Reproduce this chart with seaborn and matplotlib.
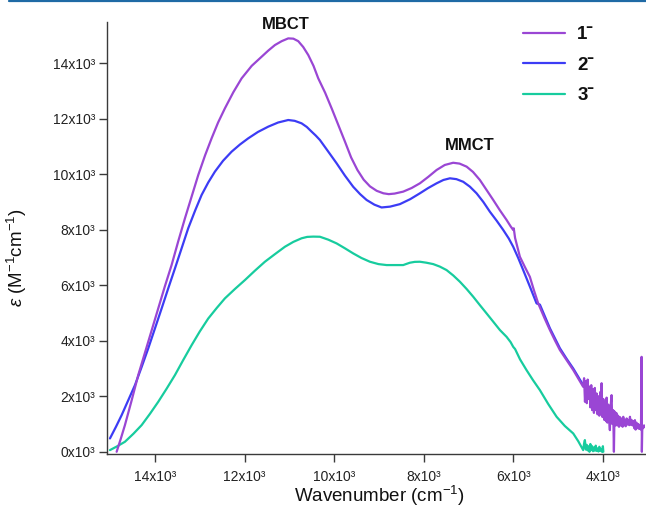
import matplotlib
matplotlib.use("Agg")
import matplotlib.pyplot as plt
import matplotlib.lines as mlines
import seaborn as sns
import pandas as pd

# ---- data (wavenumber in cm-1, epsilon in M-1 cm-1) ----
wn_1 = [14855, 14760, 14670, 14520, 14373, 14260, 14150, 14040, 13926, 13780,
        13628, 13480, 13330, 13180, 13033, 12880, 12735, 12590, 12438, 12250,
        12065, 11840, 11618, 11470, 11321, 11170, 11024, 10910, 10801, 10690,
        10577, 10460, 10354, 10200, 10050, 9900, 9760, 9620, 9480, 9340,
        9200, 9050, 8900, 8780, 8650, 8458, 8270, 8085, 7900, 7712,
        7530, 7342, 7200, 7042, 6900, 6746, 6600, 6448, 6300, 6150,
        6060, 6002, 5990, 5960, 5853, 5740, 5630, 5540, 5444, 5300,
        5183, 5070, 4960, 4810, 4662, 4550,
        # noisy low-energy tail
        4440, 4420, 4400, 4380, 4360, 4340, 4320, 4300, 4280, 4260,
        4240, 4220, 4200, 4180, 4160, 4140, 4120, 4100, 4080, 4060,
        4040, 4029, 4010, 3990, 3970, 3950, 3930, 3917, 3900, 3880,
        3860, 3844, 3830, 3806, 3790, 3770, 3754, 3740, 3720, 3700,
        3680, 3660, 3640, 3620, 3600, 3580, 3560, 3545, 3530, 3510,
        3490, 3470, 3450, 3430, 3410, 3396, 3380, 3360, 3340, 3320,
        3300, 3285, 3270, 3250, 3230, 3210, 3190, 3170, 3150, 3136,
        3130, 3120, 3100, 3080, 3063]
eps_1 = [0, 480, 960, 1850, 2760, 3370, 3960, 4560, 5165, 5950,
         6725, 7580, 8408, 9200, 9968, 10680, 11290, 11860, 12370, 12950,
         13450, 13900, 14230, 14450, 14650, 14790, 14890, 14880, 14790, 14580,
         14290, 13900, 13450, 12930, 12350, 11750, 11180, 10600, 10150, 9800,
         9560, 9400, 9310, 9280, 9300, 9370, 9500, 9670, 9900, 10150,
         10330, 10410, 10380, 10270, 10080, 9790, 9440, 9070, 8700, 8350,
         8120, 7990, 8050, 7700, 7025, 6650, 6300, 5820, 5345, 4800,
         4385, 4010, 3665, 3300, 2945, 2640,
         2340, 2650, 1800, 2550, 1750, 2600, 1900, 2350, 1600, 2400,
         1500, 2250, 1400, 2300, 1500, 2100, 1350, 2000, 1300, 2150,
         1350, 2470, 1250, 1900, 1150, 1800, 1100, 1950, 1050, 1700,
         1150, 780, 1600, 2040, 1000, 1500, 0, 1450, 950, 1400,
         950, 1300, 900, 1250, 950, 1200, 900, 1260, 950, 1150,
         920, 1200, 980, 1150, 960, 1260, 980, 1150, 950, 1100,
         850, 1140, 800, 1050, 850, 1000, 820, 950, 800, 3420,
         0, 950, 850, 950, 900]

wn_2 = [15004, 14870, 14743, 14600, 14446, 14300, 14150, 14000, 13850, 13700,
        13554, 13400, 13257, 13100, 12958, 12810, 12661, 12480, 12288, 12100,
        11917, 11700, 11471, 11250, 11024, 10880, 10726, 10610, 10502, 10410,
        10317, 10130, 9944, 9760, 9574, 9420, 9275, 9100, 8940, 8750,
        8531, 8300, 8085, 7900, 7712, 7560, 7415, 7270, 7118, 6970,
        6820, 6670, 6522, 6370, 6225, 6100, 6002, 5890, 5779, 5630,
        5481, 5406, 5183, 4960, 4810, 4662, 4550, 4440, 4300, 4150,
        4000, 3900, 3760]
eps_2 = [480, 900, 1320, 1840, 2400, 3040, 3720, 4440, 5165, 5900,
         6600, 7350, 8050, 8700, 9250, 9700, 10090, 10480, 10810, 11070,
         11290, 11520, 11710, 11860, 11950, 11920, 11830, 11700, 11530, 11390,
         11230, 10810, 10390, 9950, 9545, 9280, 9070, 8900, 8800, 8830,
         8920, 9100, 9310, 9500, 9670, 9790, 9850, 9820, 9725, 9550,
         9310, 9000, 8645, 8320, 7990, 7680, 7385, 6980, 6545, 5950,
         5345, 5300, 4450, 3730, 3350, 3000, 2700, 2400, 2150, 1900,
         1700, 1550, 1400]

wn_3 = [15004, 14840, 14670, 14480, 14297, 14110, 13926, 13740, 13554, 13370,
        13181, 13000, 12810, 12620, 12438, 12210, 11991, 11770, 11545, 11320,
        11098, 10910, 10726, 10600, 10467, 10317, 10130, 9944, 9760, 9574,
        9390, 9201, 9010, 8828, 8640, 8458, 8380, 8308, 8200, 8085,
        7940, 7788, 7640, 7490, 7340, 7192, 7040, 6895, 6750, 6597,
        6450, 6299, 6150, 6060, 6002, 5960, 5850, 5704, 5560, 5406,
        5220, 5033, 4850, 4662, 4550,
        4440, 4420, 4402, 4380, 4360, 4340, 4320, 4300, 4280, 4260,
        4240, 4220, 4200, 4180, 4160, 4140, 4120, 4100, 4080, 4060,
        4040, 4020, 4000, 3990]
eps_3 = [60, 200, 360, 650, 960, 1370, 1800, 2270, 2760, 3300,
         3840, 4330, 4800, 5180, 5525, 5870, 6185, 6520, 6845, 7120,
         7385, 7560, 7690, 7740, 7750, 7745, 7640, 7505, 7330, 7145,
         6980, 6845, 6760, 6725, 6725, 6725, 6770, 6810, 6840, 6845,
         6810, 6760, 6670, 6545, 6350, 6125, 5860, 5585, 5290, 4985,
         4690, 4385, 4140, 3950, 3780, 3700, 3330, 2940, 2580, 2220,
         1720, 1260, 930, 660, 380,
         60, 300, 420, 80, 250, 50, 200, 0, 280, 60,
         200, 20, 150, 40, 220, 30, 120, 10, 180, 40,
         100, 0, 200, 0]

series_labels = ["1ˉ", "2ˉ", "3ˉ"]
series_colors = ["#9a46d4", "#3c3cf5", "#17cc9e"]
series_order = [3, 2, 1]  # purple trace sits on top of the blue one

x_ticks = [14000, 12000, 10000, 8000, 6000, 4000]
x_ticklabels = ["14x10³", "12x10³", "10x10³", "8x10³", "6x10³", "4x10³"]
y_ticks = [0, 2000, 4000, 6000, 8000, 10000, 12000, 14000]
y_ticklabels = ["0x10³", "2x10³", "4x10³", "6x10³", "8x10³", "10x10³", "12x10³", "14x10³"]

sns.set_theme(style="ticks")
plt.rcParams["font.family"] = ["Liberation Sans", "DejaVu Sans"]
plt.rcParams["mathtext.fontset"] = "custom"
plt.rcParams["mathtext.rm"] = "Liberation Sans"
plt.rcParams["mathtext.it"] = "Liberation Sans:italic"
plt.rcParams["mathtext.bf"] = "Liberation Sans:bold"

fig = plt.figure(figsize=(6.46, 5.13), dpi=100)
ax = fig.add_axes([107 / 646, 59 / 513, 538 / 646, 432 / 513])

for wn, eps, lab, col, z in zip([wn_1, wn_2, wn_3], [eps_1, eps_2, eps_3],
                                series_labels, series_colors, series_order):
    df = pd.DataFrame({"wn": wn, "eps": eps})
    sns.lineplot(data=df, x="wn", y="eps", sort=False, estimator=None,
                 color=col, linewidth=1.6, label=lab, ax=ax, zorder=z)

ax.set_xlim(15070, 3060)
ax.set_ylim(-80, 15480)
ax.set_xticks(x_ticks)
ax.set_xticklabels(x_ticklabels)
ax.set_yticks(y_ticks)
ax.set_yticklabels(y_ticklabels)
ax.tick_params(axis="both", direction="out", length=5.5, width=1, color="#3a3a3a",
               labelsize=10, labelcolor="#222222", pad=3)
ax.tick_params(axis="x", pad=6)

for side in ["top", "right"]:
    ax.spines[side].set_visible(False)
for side in ["left", "bottom"]:
    ax.spines[side].set_color("#3a3a3a")
    ax.spines[side].set_linewidth(1.0)

ax.set_xlabel("Wavenumber (cm$^{-1}$)", fontsize=13.5, color="#111111")
ax.xaxis.set_label_coords(0.506, -0.07)
ax.set_ylabel("$ε$ (M$^{-1}$cm$^{-1}$)", fontsize=13.5, color="#111111")
ax.yaxis.set_label_coords(-0.145, 0.454)

ax.text(11076, 15407, "MBCT", fontsize=12, fontweight="bold", ha="center", va="center",
        clip_on=False, color="#111111")
ax.text(6980, 11030, "MMCT", fontsize=12, fontweight="bold", ha="center", va="center",
        clip_on=False, color="#111111")

leg = ax.legend(loc="upper left", bbox_to_anchor=(523 / 646, 1 - 26 / 513),
                bbox_transform=fig.transFigure, frameon=False,
                prop={"size": 13.5, "weight": "bold"},
                handlelength=2.25, handletextpad=0.65, labelspacing=0.72,
                borderpad=0, borderaxespad=0)
for t in leg.get_texts():
    t.set_color("#111111")

# thin page rule along the top edge
fig.add_artist(mlines.Line2D([9 / 646, 1], [0.998, 0.998], transform=fig.transFigure,
                             color="#1f6aa5", linewidth=1.6))

fig.savefig("out.png", dpi=100)
